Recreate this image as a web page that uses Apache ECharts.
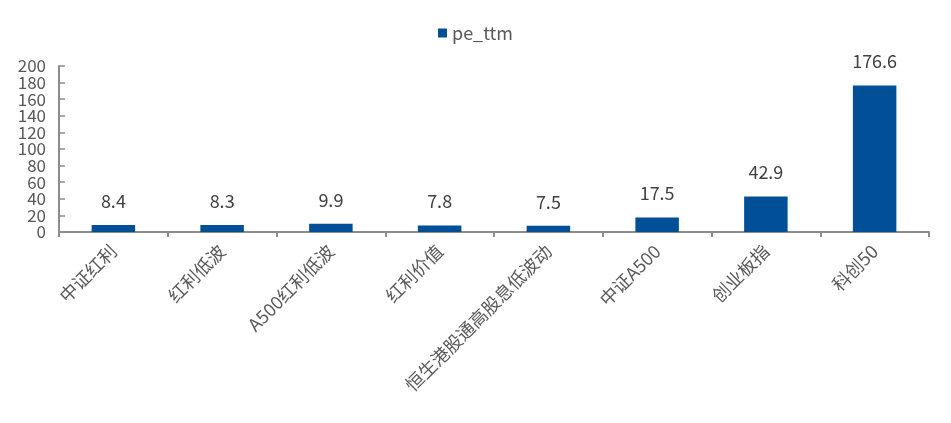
<!DOCTYPE html>
<html><head><meta charset="utf-8">
<script src="https://cdn.jsdelivr.net/npm/echarts@6/dist/echarts.min.js"></script>
<style>html,body{margin:0;padding:0;background:#fff}#c{width:951px;height:423px}</style>
</head><body><div id="c"></div>
<script>
const categories = ['中证红利','红利低波','A500红利低波','红利价值','恒生港股通高股息低波动','中证A500','创业板指','科创50'];
const peTtm = [8.4, 8.3, 9.9, 7.8, 7.5, 17.5, 42.9, 176.6];
const yTicks = [0, 20, 40, 60, 80, 100, 120, 140, 160, 180, 200];
const font = '"Noto Sans CJK SC", "Noto Sans", sans-serif';
const yMin = yTicks[0], yMax = yTicks[yTicks.length - 1], yStep = yTicks[1] - yTicks[0];
const labelBase = { fontSize: 17, color: '#595959', margin: 13, fontFamily: font,
  showMinLabel: true, showMaxLabel: true, hideOverlap: false };
const chart = echarts.init(document.getElementById('c'));
chart.setOption({
  animation: false,
  textStyle: { fontFamily: font },
  legend: {
    top: 19, left: 'center', itemWidth: 9, itemHeight: 9, icon: 'rect', itemGap: 10,
    textStyle: { fontSize: 18, color: '#595959', fontFamily: font },
    data: ['pe_ttm']
  },
  grid: { left: 59, right: 22, top: 66, bottom: 191, containLabel: false, outerBoundsMode: 'none' },
  xAxis: {
    type: 'category', data: categories,
    axisLine: { lineStyle: { color: '#8c8c8c', width: 2 } },
    axisTick: { show: true, length: 5, lineStyle: { color: '#8c8c8c', width: 2 } },
    axisLabel: { rotate: 45, fontSize: 18, color: '#595959', margin: 16, interval: 0, fontFamily: font }
  },
  yAxis: [{
    type: 'value', min: yMin, max: yMax, interval: yStep, position: 'left',
    splitLine: { show: false },
    axisLine: { show: true, lineStyle: { color: '#8c8c8c', width: 2 } },
    axisTick: { show: true, inside: true, length: 6, lineStyle: { color: '#8c8c8c', width: 1.5 } },
    axisLabel: Object.assign({}, labelBase, { formatter: v => (Math.round(v / yStep) % 2 === 0 ? String(v) : '') })
  }, {
    type: 'value', min: yMin, max: yMax, interval: yStep, position: 'left', offset: 0,
    splitLine: { show: false }, axisLine: { show: false }, axisTick: { show: false },
    axisLabel: Object.assign({}, labelBase, { formatter: v => (Math.round(v / yStep) % 2 === 1 ? String(v) : '') })
  }],
  series: [{
    name: 'pe_ttm', type: 'bar', data: peTtm, barWidth: '40%', yAxisIndex: 0,
    itemStyle: { color: '#004f97' },
    label: { show: true, position: 'top', distance: 15, fontSize: 18, color: '#404040', fontFamily: font }
  }]
});
</script></body></html>
